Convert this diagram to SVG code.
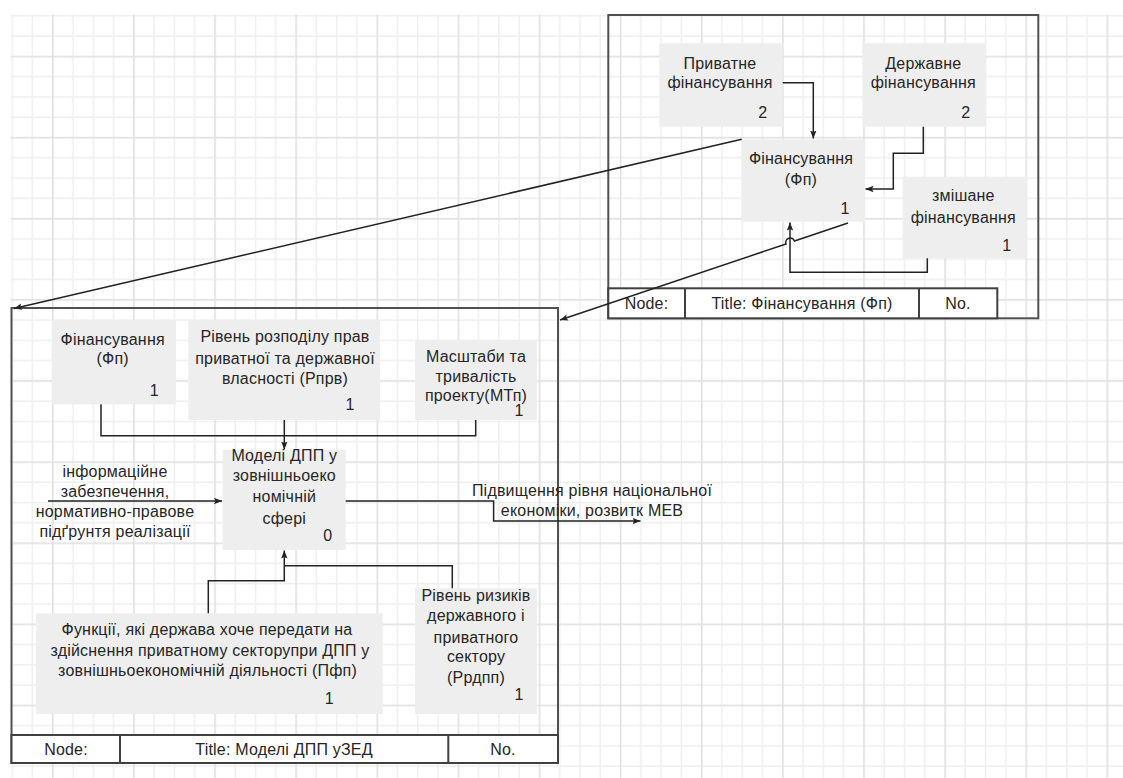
<svg xmlns="http://www.w3.org/2000/svg" width="1123" height="778" viewBox="0 0 1123 778">
<style>
.t{font-family:"Liberation Sans",Arial,sans-serif;font-size:16px;fill:#262626;text-anchor:middle;letter-spacing:0.2px}
.box{fill:#eeeeee;stroke:none}
.frame{fill:none;stroke:#505050;stroke-width:2}
.bar{fill:#ffffff;stroke:#404040;stroke-width:2}
.div{stroke:#404040;stroke-width:2}
.c{fill:none;stroke:#222222;stroke-width:1.5}
</style>
<defs>
<pattern id="grid" x="11.44" y="15.14" width="81.12" height="81.12" patternUnits="userSpaceOnUse">
<rect x="0" y="0" width="1.4" height="81.12" fill="#eeeeee"/>
<rect x="20.28" y="0" width="1.4" height="81.12" fill="#eeeeee"/>
<rect x="60.84" y="0" width="1.4" height="81.12" fill="#eeeeee"/>
<rect x="0" y="0" width="81.12" height="1.4" fill="#eeeeee"/>
<rect x="0" y="20.28" width="81.12" height="1.4" fill="#eeeeee"/>
<rect x="0" y="60.84" width="81.12" height="1.4" fill="#eeeeee"/>
<rect x="40.56" y="0" width="1.6" height="81.12" fill="#e0e0e0"/>
<rect x="0" y="40.56" width="81.12" height="1.6" fill="#e0e0e0"/>
</pattern>
<marker id="ah" viewBox="0 0 10 10" refX="10" refY="5" markerWidth="8" markerHeight="8" markerUnits="userSpaceOnUse" orient="auto">
<path d="M0,1 L10,5 L0,9 L2,5 z" fill="#222222"/>
</marker>
</defs>
<rect width="1123" height="778" fill="#ffffff"/>
<rect x="10.8" y="14.5" width="1112.2" height="763.5" fill="url(#grid)"/>

<g id="frame-top">
<rect class="frame" x="608.3" y="15" width="430" height="303.3"/>
<rect class="bar" x="608.3" y="288.3" width="389" height="30"/>
<line class="div" x1="685" y1="288.3" x2="685" y2="318.3"/>
<line class="div" x1="919" y1="288.3" x2="919" y2="318.3"/>
<text class="t" x="646.5" y="308.5">Node:</text>
<text class="t" x="802" y="308.5">Title: Фінансування (Фп)</text>
<text class="t" x="958" y="308.5">No.</text>
</g>

<g id="frame-left">
<rect class="frame" x="11.5" y="308" width="546.5" height="455"/>
<rect class="bar" x="11.5" y="735" width="546.5" height="28"/>
<line class="div" x1="120" y1="735" x2="120" y2="763"/>
<line class="div" x1="448.3" y1="735" x2="448.3" y2="763"/>
<text class="t" x="66" y="754.5">Node:</text>
<text class="t" x="284" y="754.5">Title: Моделі ДПП уЗЕД</text>
<text class="t" x="503" y="754.5">No.</text>
</g>

<g id="node-pryvatne">
<rect class="box" x="659.3" y="43.3" width="123.4" height="83.4"/>
<text class="t" x="720" y="68.5">Приватне</text>
<text class="t" x="720" y="88">фінансування</text>
<text class="t" x="762.7" y="118">2</text>
</g>
<g id="node-derzhavne">
<rect class="box" x="862.3" y="43.3" width="123.4" height="83.4"/>
<text class="t" x="923.3" y="68.5">Державне</text>
<text class="t" x="923.3" y="88">фінансування</text>
<text class="t" x="965.7" y="118">2</text>
</g>
<g id="node-finansuvannia-top">
<rect class="box" x="741.7" y="139.3" width="123.3" height="82.4"/>
<text class="t" x="801" y="163.5">Фінансування</text>
<text class="t" x="801" y="184.5">(Фп)</text>
<text class="t" x="845" y="214">1</text>
</g>
<g id="node-zmishane">
<rect class="box" x="902.7" y="176.7" width="124" height="81.6"/>
<text class="t" x="963.3" y="201">змішане</text>
<text class="t" x="963.3" y="222.5">фінансування</text>
<text class="t" x="1006.7" y="251">1</text>
</g>

<g id="node-finansuvannia">
<rect class="box" x="51.7" y="320" width="124.3" height="84.3"/>
<text class="t" x="112.7" y="345">Фінансування</text>
<text class="t" x="112.7" y="363.5">(Фп)</text>
<text class="t" x="154.3" y="396">1</text>
</g>
<g id="node-riven-rozpodilu">
<rect class="box" x="188.3" y="320" width="191.7" height="100"/>
<text class="t" x="285" y="342">Рівень розподілу прав</text>
<text class="t" x="285" y="363.5">приватної та державної</text>
<text class="t" x="285" y="384">власності (Рпрв)</text>
<text class="t" x="350" y="410">1</text>
</g>
<g id="node-masshtaby">
<rect class="box" x="415" y="340" width="122" height="80"/>
<text class="t" x="476" y="362">Масштаби та</text>
<text class="t" x="476" y="382">тривалість</text>
<text class="t" x="476" y="400.5">проекту(МТп)</text>
<text class="t" x="519" y="415.5">1</text>
</g>
<g id="node-model">
<rect class="box" x="222.7" y="450" width="123" height="100"/>
<text class="t" x="284.3" y="460.5">Моделі ДПП у</text>
<text class="t" x="284.3" y="481">зовнішньоеко</text>
<text class="t" x="284.3" y="502">номічній</text>
<text class="t" x="284.3" y="523.5">сфері</text>
<text class="t" x="327.7" y="540.5">0</text>
</g>
<g id="node-funktsii">
<rect class="box" x="36" y="613.3" width="346.7" height="100.7"/>
<text class="t" x="207" y="634.5">Функції, які держава хоче передати на</text>
<text class="t" x="210" y="656">здійснення приватному секторупри ДПП у</text>
<text class="t" x="207.5" y="676">зовнішньоекономічній діяльності (Пфп)</text>
<text class="t" x="329.3" y="703.5">1</text>
</g>
<g id="node-riven-ryzykiv">
<rect class="box" x="415" y="588.3" width="122" height="125.7"/>
<text class="t" x="476" y="600.5">Рівень ризиків</text>
<text class="t" x="476" y="620.5">державного і</text>
<text class="t" x="476" y="642.5">приватного</text>
<text class="t" x="476" y="662">сектору</text>
<text class="t" x="476" y="682.5">(Ррдпп)</text>
<text class="t" x="519" y="700">1</text>
</g>

<g id="connectors">
<path class="c" d="M782.7,82.7 H813.3 V138.5" marker-end="url(#ah)"/>
<path class="c" d="M923.3,126.7 V153.3 H893.3 V189 H865.5" marker-end="url(#ah)"/>
<path class="c" d="M927.3,258.3 V272.3 H790 V222.5" marker-end="url(#ah)"/>
<path class="c" d="M848,223 L794.5,241 A4.3 4.3 0 0 0 786,244 L560,320" marker-end="url(#ah)"/>
<path class="c" d="M741.7,139.3 L14,308.5" marker-end="url(#ah)"/>
<path class="c" d="M101,404.3 V435.7 H475.7 V420"/>
<path class="c" d="M284.3,420 V449.5" marker-end="url(#ah)"/>
<path class="c" d="M48,501 H222" marker-end="url(#ah)"/>
<path class="c" d="M345.7,501 H493.6 V521 H640.5" marker-end="url(#ah)"/>
<path class="c" d="M208.3,613.3 V580.7 H284.3 V550.5" marker-end="url(#ah)"/>
<path class="c" d="M452.3,588.3 V565.7 H284.3"/>
</g>

<g id="labels">
<text class="t" x="115" y="477">інформаційне</text>
<text class="t" x="115" y="497">забезпечення,</text>
<text class="t" x="115" y="517">нормативно-правове</text>
<text class="t" x="115" y="537">підґрунтя реалізації</text>
<text class="t" x="592" y="495.5">Підвищення рівня національної</text>
<text class="t" x="592" y="515.5">економіки, розвитк МЕВ</text>
</g>
</svg>
